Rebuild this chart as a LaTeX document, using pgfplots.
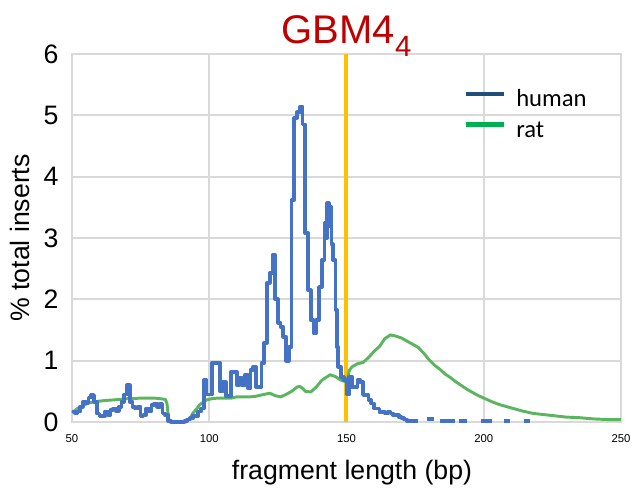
\documentclass[border=0pt]{standalone}
\usepackage{fontspec}
\setmainfont{Liberation Sans}
\newfontfamily\carlito{Carlito}
\usepackage{pgfplots}
\pgfplotsset{compat=1.18}
\definecolor{humanc}{HTML}{4472C4}
\definecolor{ratc}{HTML}{5AB55E}
\definecolor{humanleg}{HTML}{1F4E79}
\definecolor{ratleg}{HTML}{00B050}
\definecolor{gridc}{HTML}{D9D9D9}
\definecolor{orangec}{HTML}{FFC000}
\definecolor{titlec}{HTML}{C00000}
\begin{document}
\begin{tikzpicture}
\useasboundingbox (-54pt,-51pt) rectangle (429pt,316.5pt);
\begin{axis}[
  scale only axis, width=411.75pt, height=276pt,
  xmin=50, xmax=250, ymin=0, ymax=6,
  xtick={50,100,150,200,250}, ytick={0,1,2,3,4,5,6},
  /pgf/number format/assume math mode=true,
  grid=major, major grid style={draw=gridc, line width=1.5pt},
  axis line style={draw=gridc, line width=1.5pt},
  major tick length=0pt,
  xticklabel style={font=\fontsize{8.5}{9}\selectfont, inner sep=0pt, anchor=north, yshift=-9pt},
  yticklabel style={font=\fontsize{20}{20}\selectfont, inner sep=0pt, anchor=east, xshift=-10pt},
  xlabel={fragment length (bp)}, ylabel={\% total inserts},
  every axis x label/.style={at={(axis description cs:0.51,-0.138)}, anchor=center, font=\fontsize{20}{20}\selectfont},
  every axis y label/.style={at={(axis description cs:-0.0947,0.5)}, anchor=center, rotate=90, font=\fontsize{20}{20}\selectfont},
  title={GBM4\raisebox{-0.32em}{\fontsize{22}{22}\selectfont 4}},
  every axis title/.style={at={(axis description cs:0.5,1.028)}, anchor=base, font=\fontsize{30}{30}\selectfont, text=titlec},
  legend style={at={(axis description cs:0.712,0.905)}, anchor=north west, draw=none, fill=none, inner sep=0pt,
    font=\carlito\fontsize{18.5}{19}\selectfont, row sep=6pt, column sep=0pt,
    nodes={inner sep=0pt, text height=13pt, text depth=4pt}},
  legend cell align=left,
  legend image code/.code={\draw[#1] (0pt,5pt) -- (28.75pt,5pt);},
  every legend image post/.style={},
  clip=false,
]
\addlegendimage{color=humanleg, line width=3.6pt}
\addlegendentry{\hspace{7.5pt}human}
\addlegendimage{color=ratleg, line width=3.6pt}
\addlegendentry{\hspace{7.5pt}rat}

\addplot[forget plot, color=orangec, line width=3pt] coordinates {(150,0) (150,6)};

\addplot[forget plot, color=ratc, line width=2.2pt, line join=round] coordinates {
(50,0.15)(52,0.22)(54,0.27)(56,0.31)(58,0.33)(60,0.34)(62,0.35)(65,0.36)(68,0.37)(70,0.38)(72,0.38)(75,0.39)(78,0.39)(80,0.39)(82,0.38)(84,0.37)(84.6,0.30)(85.2,0.05)(86,0.0)(91.5,0.0)(93,0.06)(94,0.14)(95.5,0.22)(96.5,0.28)(98,0.33)(99,0.36)(101,0.38)(103,0.39)(106,0.39)(108,0.39)(110,0.41)(113,0.41)(115,0.41)(117,0.42)(119,0.44)(121,0.46)(122,0.47)(124,0.43)(126,0.41)(128,0.45)(130,0.50)(132,0.57)(133,0.58)(134,0.55)(135,0.50)(137,0.49)(139,0.57)(141,0.68)(143,0.74)(144,0.77)(146,0.74)(148,0.68)(149.5,0.66)(150.5,0.72)(151,0.84)(152,0.90)(154,0.95)(156,0.97)(158,1.05)(160,1.15)(162,1.23)(164,1.36)(166,1.42)(168,1.40)(170,1.37)(172,1.32)(174,1.27)(176,1.22)(178,1.13)(180,1.02)(182,0.93)(184,0.86)(186,0.78)(188,0.72)(190,0.65)(192,0.59)(194,0.53)(196,0.48)(198,0.43)(200,0.39)(203,0.33)(206,0.28)(210,0.23)(214,0.18)(218,0.14)(222,0.12)(226,0.10)(230,0.08)(235,0.07)(240,0.05)(245,0.04)(250,0.04)
};

\addplot[forget plot, color=humanc, line width=2.8pt, const plot, line join=round] coordinates {
(50,0.17)(51,0.15)(52,0.17)(53,0.25)(54,0.33)(55,0.30)(56,0.40)(57,0.44)(58,0.33)(59,0.14)(60,0.09)(61,0.10)(62,0.17)(63,0.12)(64,0.20)(65,0.22)(66,0.18)(67,0.25)(68,0.33)(69,0.45)(70,0.60)(71,0.33)(72,0.25)(73,0.22)(74,0.25)(75,0.09)(76,0.12)(77,0.22)(78,0.18)(79,0.28)(80,0.30)(81,0.25)(82,0.30)(83,0.14)(84,0.11)(85,0.02)(86,0)(91,0.02)(92,0.04)(93,0.06)(94,0.10)(95,0.10)(96,0.17)(97,0.22)(98,0.68)(99,0.45)(101,0.96)(104,0.50)(105,0.65)(106,0.42)(108,0.82)(110,0.60)(111,0.72)(112,0.60)(113,0.77)(114,0.55)(115,0.85)(116,0.90)(117,0.57)(119,0.96)(120,1.29)(121,2.27)(122,2.43)(123,2.72)(124,2.0)(125,1.62)(126,1.55)(127,1.39)(128,1.0)(129,1.22)(130,3.62)(131,4.96)(132,5.05)(133,5.14)(134,4.85)(135,3.08)(136,2.15)(137,1.66)(138,1.45)(139,1.66)(140,2.2)(141,2.64)(142,3.24)(142.5,3.0)(143,3.57)(143.5,3.2)(144,3.5)(144.5,2.9)(145,2.64)(146,1.83)(146.5,1.22)(147,0.9)(148,0.73)(149,0.68)(150.3,0.45)(151,0.74)(152,0.57)(154,0.68)(155,0.65)(156,0.44)(158,0.36)(159,0.30)(160,0.22)(162,0.16)(164,0.14)(165,0.16)(166,0.14)(167,0.11)(169,0.08)(170,0.06)(171,0.04)(172,0.02)(176,0.02)
};

\addplot[forget plot, color=humanc, line width=2.8pt, unbounded coords=jump] coordinates {
(179.5,0.05)(182,0.05)(182.5,nan)(184,0.02)(189.5,0.02)(190,nan)(191,0.02)(194,0.02)(195,nan)(199,0.02)(203,0.02)(204,nan)(207.5,0.02)(209.6,0.02)(210,nan)(214.5,0.02)(217,0.02)
};
\end{axis}
\end{tikzpicture}
\end{document}
